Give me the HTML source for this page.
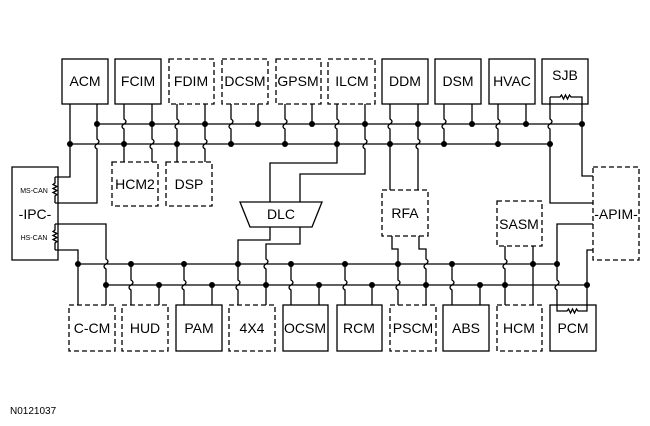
<!DOCTYPE html>
<html><head><style>
html,body{margin:0;padding:0;background:#fff;}
svg{display:block;}
text{font-family:"Liberation Sans",Arial,sans-serif;fill:#000;}
.b{fill:#fff;stroke:#000;stroke-width:1.3;}
.d{fill:#fff;stroke:#000;stroke-width:1.3;stroke-dasharray:5 3;}
.w{fill:none;stroke:#000;stroke-width:1.3;}
</style></head><body>
<svg width="650" height="426" viewBox="0 0 650 426" xmlns="http://www.w3.org/2000/svg">
<g class="w">
<!-- top buses -->
<path d="M97 124H582M70 144H550"/>
<!-- bottom buses -->
<path d="M78 264H557M106 285H587"/>
<!-- ACM -->
<path d="M70 104V177H55"/>
<path d="M97 104V139q4 2.5 0 5q-4 2.5 0 5V203H55"/>
<!-- FCIM -->
<path d="M124 104V119q4 2.5 0 5q-4 2.5 0 5V162"/>
<path d="M152 104V139q4 2.5 0 5q-4 2.5 0 5V162"/>
<!-- FDIM -->
<path d="M177 104V119q4 2.5 0 5q-4 2.5 0 5V162"/>
<path d="M205 104V139q4 2.5 0 5q-4 2.5 0 5V162"/>
<!-- DCSM -->
<path d="M231 104V119q4 2.5 0 5q-4 2.5 0 5V144"/>
<path d="M258 104V124"/>
<!-- GPSM -->
<path d="M285 104V119q4 2.5 0 5q-4 2.5 0 5V144"/>
<path d="M312 104V124"/>
<!-- ILCM -->
<path d="M337 104V119q4 2.5 0 5q-4 2.5 0 5V163H270V202"/>
<path d="M365 104V139q4 2.5 0 5q-4 2.5 0 5V174H300V202"/>
<!-- DDM -->
<path d="M390 104V119q4 2.5 0 5q-4 2.5 0 5V190"/>
<path d="M418 104V139q4 2.5 0 5q-4 2.5 0 5V190"/>
<!-- DSM -->
<path d="M444 104V119q4 2.5 0 5q-4 2.5 0 5V144"/>
<path d="M472 104V124"/>
<!-- HVAC -->
<path d="M498 104V119q4 2.5 0 5q-4 2.5 0 5V144"/>
<path d="M526 104V124"/>
<!-- SJB -->
<path d="M550 97V119q4 2.5 0 5q-4 2.5 0 5V203H593"/>
<path d="M582 97V176H593"/>
<!-- C-CM -->
<path d="M55 250H78V305"/>
<path d="M55 224H106V259q4 2.5 0 5q-4 2.5 0 5V305"/>
<!-- HUD -->
<path d="M131 264V280q4 2.5 0 5q-4 2.5 0 5V305M159 285V305"/>
<path d="M184 264V280q4 2.5 0 5q-4 2.5 0 5V305M212 285V305"/>
<!-- 4X4 -->
<path d="M270 226V240H238V280q4 2.5 0 5q-4 2.5 0 5V305"/>
<path d="M300 226V244H266V259q4 2.5 0 5q-4 2.5 0 5V305"/>
<path d="M291 264V280q4 2.5 0 5q-4 2.5 0 5V305M319 285V305"/>
<path d="M345 264V280q4 2.5 0 5q-4 2.5 0 5V305M372 285V305"/>
<!-- PSCM -->
<path d="M392 236V249H398V280q4 2.5 0 5q-4 2.5 0 5V305"/>
<path d="M419 236V249H426V259q4 2.5 0 5q-4 2.5 0 5V305"/>
<path d="M452 264V280q4 2.5 0 5q-4 2.5 0 5V305M480 285V305"/>
<!-- HCM -->
<path d="M505 246V259q4 2.5 0 5q-4 2.5 0 5V305"/>
<path d="M533 246V305"/>
<!-- PCM -->
<path d="M593 224H557V280q4 2.5 0 5q-4 2.5 0 5V311"/>
<path d="M593 250H587V311"/>
<!-- resistors -->
<path d="M550 97H560l1.5-2 2 4 2-4 2 4 2-4 1.5 2H582"/>
<path d="M557 311H567l1.5-2 2 4 2-4 2 4 2-4 1.5 2H587"/>
<path d="M55 177V183l-2 1.5 4 2-4 2 4 2-4 2 4 2-2 1.5V203"/>
<path d="M55 224V230l-2 1.5 4 2-4 2 4 2-4 2 4 2-2 1.5V250"/>
</g>
<!-- dots -->
<g fill="#000">
<circle cx="70" cy="144" r="3"/><circle cx="97" cy="124" r="3"/>
<circle cx="124" cy="144" r="3"/><circle cx="152" cy="124" r="3"/>
<circle cx="177" cy="144" r="3"/><circle cx="205" cy="124" r="3"/>
<circle cx="231" cy="144" r="3"/><circle cx="258" cy="124" r="3"/>
<circle cx="285" cy="144" r="3"/><circle cx="312" cy="124" r="3"/>
<circle cx="337" cy="144" r="3"/><circle cx="365" cy="124" r="3"/>
<circle cx="390" cy="144" r="3"/><circle cx="418" cy="124" r="3"/>
<circle cx="444" cy="144" r="3"/><circle cx="472" cy="124" r="3"/>
<circle cx="498" cy="144" r="3"/><circle cx="526" cy="124" r="3"/>
<circle cx="550" cy="144" r="3"/><circle cx="582" cy="124" r="3"/>
<circle cx="78" cy="264" r="3"/><circle cx="106" cy="285" r="3"/>
<circle cx="131" cy="264" r="3"/><circle cx="159" cy="285" r="3"/>
<circle cx="184" cy="264" r="3"/><circle cx="212" cy="285" r="3"/>
<circle cx="238" cy="264" r="3"/><circle cx="266" cy="285" r="3"/>
<circle cx="291" cy="264" r="3"/><circle cx="319" cy="285" r="3"/>
<circle cx="345" cy="264" r="3"/><circle cx="372" cy="285" r="3"/>
<circle cx="398" cy="264" r="3"/><circle cx="426" cy="285" r="3"/>
<circle cx="452" cy="264" r="3"/><circle cx="480" cy="285" r="3"/>
<circle cx="505" cy="285" r="3"/><circle cx="533" cy="264" r="3"/>
<circle cx="557" cy="264" r="3"/><circle cx="587" cy="285" r="3"/>
</g>
<!-- top boxes -->
<rect class="b" x="62" y="59" width="46" height="45"/>
<rect class="b" x="115" y="59" width="46" height="45"/>
<rect class="d" x="169" y="59" width="45" height="45"/>
<rect class="d" x="222" y="59" width="46" height="45"/>
<rect class="d" x="276" y="59" width="45" height="45"/>
<rect class="d" x="328" y="59" width="47" height="45"/>
<rect class="b" x="382" y="59" width="46" height="45"/>
<rect class="b" x="435" y="59" width="46" height="45"/>
<rect class="b" x="489" y="59" width="46" height="45"/>
<rect class="b" x="542" y="59" width="46" height="45"/>
<path class="w" d="M550 97H560l1.5-2 2 4 2-4 2 4 2-4 1.5 2H582V104M550 97V104"/>
<rect class="d" x="112" y="162" width="46" height="44"/>
<rect class="d" x="166" y="162" width="46" height="44"/>
<rect class="d" x="382" y="190" width="46" height="46"/>
<rect class="d" x="497" y="201" width="45" height="45"/>
<rect class="d" x="593" y="167" width="46" height="93"/>
<path class="b" d="M12 167H58V260H12Z" style="fill:none"/>
<path d="M240 202H322L312 227H250Z" class="b"/>
<!-- bottom boxes -->
<rect class="d" x="69" y="305" width="46" height="46"/>
<rect class="d" x="122" y="305" width="46" height="46"/>
<rect class="b" x="176" y="305" width="46" height="46"/>
<rect class="d" x="229" y="305" width="46" height="46"/>
<rect class="b" x="283" y="305" width="45" height="46"/>
<rect class="b" x="337" y="305" width="45" height="46"/>
<rect class="d" x="390" y="305" width="46" height="46"/>
<rect class="b" x="443" y="305" width="46" height="46"/>
<rect class="d" x="497" y="305" width="45" height="46"/>
<rect class="b" x="550" y="305" width="46" height="46"/>
<path class="w" d="M557 305V311H567l1.5-2 2 4 2-4 2 4 2-4 1.5 2H587V305"/>
<!-- labels -->
<g font-size="14" text-anchor="middle">
<text x="85" y="86">ACM</text><text x="138" y="86">FCIM</text><text x="191" y="86">FDIM</text>
<text x="245" y="86">DCSM</text><text x="298" y="86">GPSM</text><text x="352" y="86">ILCM</text>
<text x="405" y="86">DDM</text><text x="458" y="86">DSM</text><text x="512" y="86">HVAC</text>
<text x="565" y="80">SJB</text>
<text x="135" y="189">HCM2</text><text x="189" y="189">DSP</text>
<text x="281" y="219">DLC</text><text x="405" y="218">RFA</text><text x="519" y="229">SASM</text>
<text x="92" y="333">C-CM</text><text x="145" y="333">HUD</text><text x="199" y="333">PAM</text>
<text x="252" y="333">4X4</text><text x="305" y="333">OCSM</text><text x="359" y="333">RCM</text>
<text x="413" y="333">PSCM</text><text x="466" y="333">ABS</text><text x="519" y="333">HCM</text>
<text x="573" y="333">PCM</text>
<text x="616" y="219">-APIM-</text>
<text x="35" y="219">-IPC-</text>
</g>
<g font-size="7" text-anchor="middle">
<text x="34" y="193">MS-CAN</text>
<text x="34" y="240">HS-CAN</text>
</g>
<text x="10" y="414" font-size="10">N0121037</text>
</svg>
</body></html>
